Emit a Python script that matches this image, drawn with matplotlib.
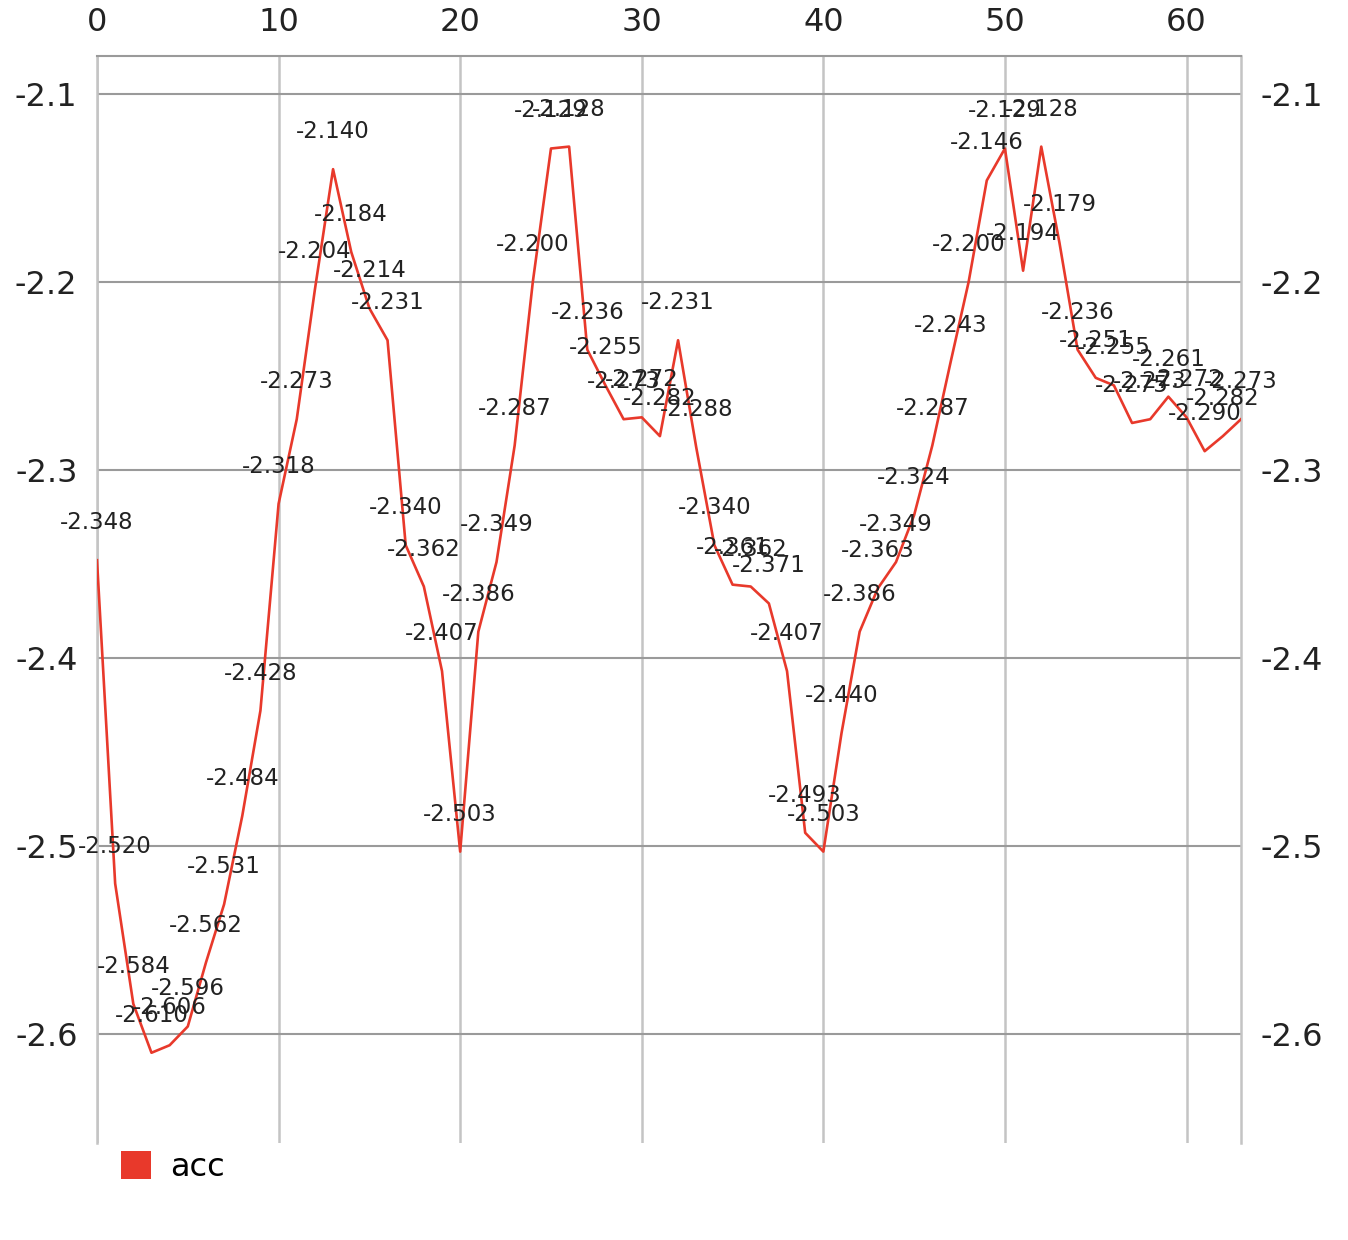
import matplotlib
matplotlib.use("Agg")
import matplotlib.pyplot as plt
from matplotlib.patches import Patch

plt.rcParams['axes.unicode_minus'] = False
plt.rcParams['font.family'] = ['DejaVu Sans']

# data
x_vals = list(range(64))
acc = [-2.348, -2.520, -2.584, -2.610, -2.606, -2.596, -2.562, -2.531, -2.484, -2.428,
       -2.318, -2.273, -2.204, -2.140, -2.184, -2.214, -2.231, -2.340, -2.362, -2.407,
       -2.503, -2.386, -2.349, -2.287, -2.200, -2.129, -2.128, -2.236, -2.255, -2.273,
       -2.272, -2.282, -2.231, -2.288, -2.340, -2.361, -2.362, -2.371, -2.407, -2.493,
       -2.503, -2.440, -2.386, -2.363, -2.349, -2.324, -2.287, -2.243, -2.200, -2.146,
       -2.129, -2.194, -2.128, -2.179, -2.236, -2.251, -2.255, -2.275, -2.273, -2.261,
       -2.272, -2.290, -2.282, -2.273]
x_ticks = [0, 10, 20, 30, 40, 50, 60]
y_ticks = [-2.6, -2.5, -2.4, -2.3, -2.2, -2.1]
series_name = "acc"

line_color = '#e8392b'

fig = plt.figure(figsize=(13.48, 12.40), dpi=100)
ax = fig.add_axes([97 / 1348, 1 - 1143 / 1240, (1241 - 97) / 1348, (1143 - 56) / 1240])

ax.plot(x_vals, acc, color=line_color, linewidth=1.9, zorder=3)

# value labels above every point
for xv, yv in zip(x_vals, acc):
    ax.annotate(f"{yv:.3f}", (xv, yv), xytext=(0, 27), textcoords='offset points',
                ha='center', va='center', fontsize=16.5, color='#222222', zorder=4)

ax.set_xlim(0, 63)
ax.set_ylim(-2.658, -2.0798)

ax.set_xticks(x_ticks)
ax.set_yticks(y_ticks)
ax.set_yticklabels([f"{t:.1f}" for t in y_ticks])

ax.xaxis.tick_top()
ax.tick_params(axis='x', length=0, pad=13, labelsize=23, labelcolor='#222222')
ax.tick_params(axis='y', length=0, pad=14, labelsize=23, labelcolor='#222222',
               left=True, right=True, labelleft=True, labelright=True)

# grid: light verticals, darker horizontals
ax.grid(axis='x', color='#c4c4c4', linewidth=1.8, zorder=0)
ax.grid(axis='y', color='#9a9a9a', linewidth=1.5, zorder=0)

ax.spines['bottom'].set_visible(False)
ax.spines['top'].set_color('#9a9a9a')
ax.spines['top'].set_linewidth(1.5)
for side in ['left', 'right']:
    ax.spines[side].set_color('#c4c4c4')
    ax.spines[side].set_linewidth(1.8)

handle = Patch(facecolor=line_color, edgecolor='none', label=series_name)
fig.legend(handles=[handle], loc='center left', bbox_to_anchor=(108 / 1348, 1 - 1167 / 1240),
           frameon=False, fontsize=23, handlelength=0.95, handleheight=0.95,
           handletextpad=0.6, borderaxespad=0)

fig.savefig('out.png', dpi=100)
